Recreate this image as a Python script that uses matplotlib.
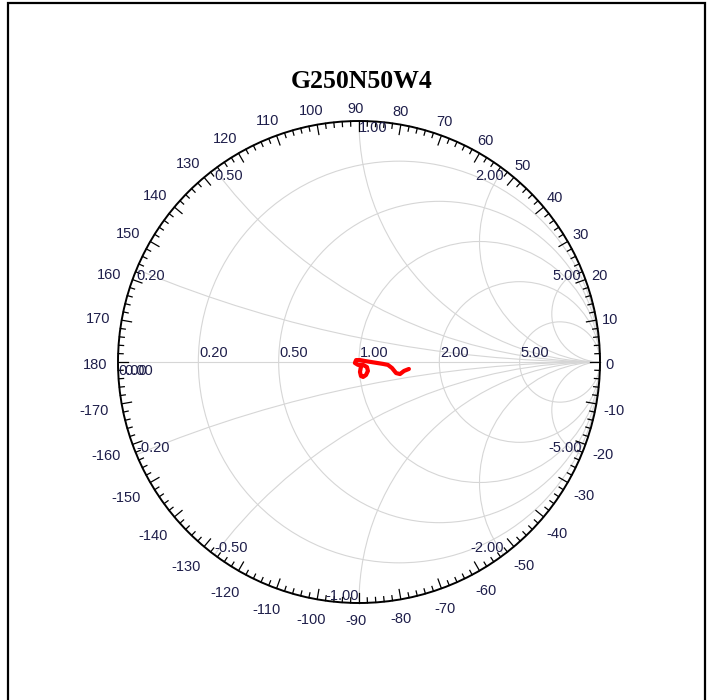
import matplotlib.pyplot as plt
import matplotlib.patches as mpatches
import numpy as np

title = "G250N50W4"

# grid values of the Smith chart
r_values = [0.2, 0.5, 1.0, 2.0, 5.0]
x_values = [0.2, 0.5, 1.0, 2.0, 5.0]
angle_labels = list(range(-170, 190, 10))

# measured reflection coefficient (real, imag)
gamma_re = [0.008, 0.004, 0.008, 0.017, 0.029, 0.037, 0.033, 0.017, -0.004, -0.017,
            -0.012, 0.004, 0.025, 0.050, 0.075, 0.100, 0.120, 0.137, 0.154, 0.170,
            0.187, 0.207]
gamma_im = [-0.021, -0.041, -0.058, -0.062, -0.054, -0.037, -0.021, -0.012, -0.012, -0.004,
            0.008, 0.008, 0.004, 0.0, -0.004, -0.008, -0.012, -0.025, -0.046, -0.050,
            -0.037, -0.029]

W, H = 711, 700
CX, CY, R = 359, 362, 241  # chart centre / radius in pixels
px = 1.0 / R

fig = plt.figure(figsize=(W / 100, H / 100), dpi=100)
ax = fig.add_axes([0, 0, 1, 1])
ax.set_xlim(-CX / R, (W - CX) / R)
ax.set_ylim(-(H - CY) / R, CY / R)
ax.set_aspect('auto')
ax.axis('off')

# frame around the figure
fig.patches.append(mpatches.Rectangle((8 / W, -0.02), 697 / W, (H - 3) / H + 0.02,
                                      transform=fig.transFigure, fill=False,
                                      edgecolor='black', linewidth=1.6))

grid_col = '#d6d6d6'
lab_col = '#1e1e4a'
fnt = 'Liberation Sans'
unit = mpatches.Circle((0, 0), 1, transform=ax.transData)

# resistance circles
for r in r_values:
    c = mpatches.Circle((r / (1 + r), 0), 1 / (1 + r), fill=False,
                        edgecolor=grid_col, linewidth=0.8)
    ax.add_patch(c)
    ax.text((r - 1) / (r + 1) + 1 * px, 2 * px, '%.2f' % r, ha='left', va='bottom',
            fontsize=10.5, color=lab_col, family=fnt)

# reactance arcs
for x in x_values:
    for s in (1, -1):
        xx = s * x
        c = mpatches.Circle((1, 1 / xx), 1 / x, fill=False,
                            edgecolor=grid_col, linewidth=0.8)
        ax.add_patch(c)
        c.set_clip_path(unit)
        gr = (xx ** 2 - 1) / (xx ** 2 + 1)
        gi = 2 * xx / (xx ** 2 + 1)
        if s > 0:
            ha = 'left' if gr <= 0 else 'right'
            va = 'top'
        else:
            ha = 'right' if gr >= 0 else 'left'
            va = 'bottom'
        ax.text(gr, gi, '%.2f' % xx, ha=ha, va=va, fontsize=10.5, color=lab_col,
                family=fnt)

ax.plot([-1, 1], [0, 0], color=grid_col, linewidth=0.8)

# r = 0 / x = 0 labels piled on the left edge
for off in (0, 6):
    ax.text(-1 + off * px, -2 * px, '0.00', ha='left', va='top', fontsize=10.5,
            color=lab_col, family=fnt)

# outer circle and angle ticks
ax.add_patch(mpatches.Circle((0, 0), 1, fill=False, edgecolor='black', linewidth=1.4))
for a in range(0, 360, 2):
    t = np.radians(a)
    ln = 10 * px if a % 10 == 0 else 5 * px
    ax.plot([np.cos(t), (1 - ln) * np.cos(t)], [np.sin(t), (1 - ln) * np.sin(t)],
            color='black', linewidth=0.9)

for a in angle_labels:
    t = np.radians(a)
    s = str(a)
    w = 7.5 * len(s)
    rr = 1 + (9 + w / 2 * abs(np.cos(t)) + 6 * abs(np.sin(t))) * px
    ax.text(rr * np.cos(t) - 3 * px, rr * np.sin(t) - 3 * px, s, ha='center', va='center',
            fontsize=10.5, color=lab_col, family=fnt)

# measured trace
ax.plot(gamma_re, gamma_im, color='red', linewidth=3.0, solid_capstyle='round',
        solid_joinstyle='round')

ax.text(3 * px, (CY - 82) * px, title, ha='center', va='center', fontsize=18.5,
        fontweight='bold', family='Liberation Serif')

fig.savefig('out.png', dpi=100)
